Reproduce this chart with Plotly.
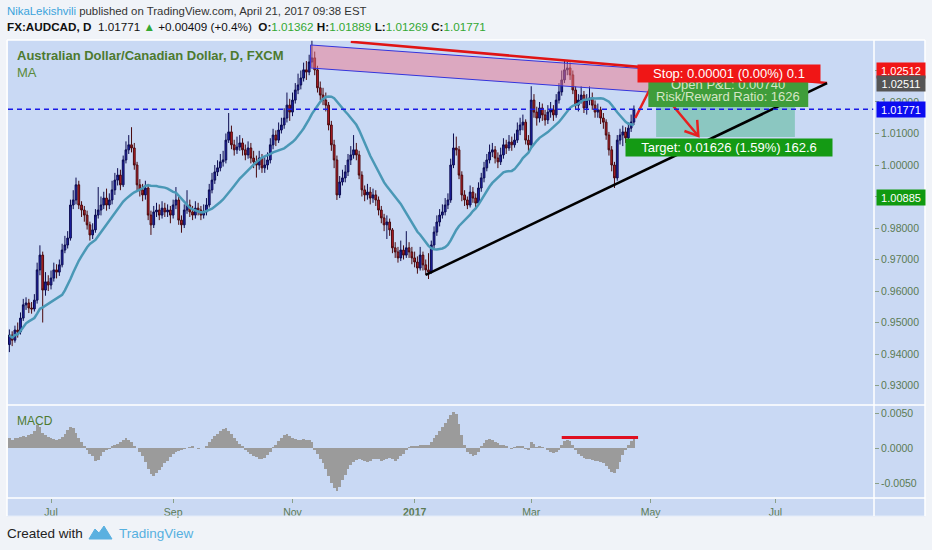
import plotly.graph_objects as go
import pandas as pd

# ---------------- data ----------------
close = [
0.9460,0.9444,0.9476,0.9470,0.9514,0.9556,0.9562,0.9546,0.9543,0.9571,
0.9667,0.9714,0.9603,0.9629,0.9619,0.9641,0.9667,0.9660,0.9683,0.9730,
0.9746,0.9768,0.9873,0.9889,0.9937,0.9873,0.9857,0.9841,0.9810,0.9778,
0.9794,0.9841,0.9857,0.9873,0.9895,0.9873,0.9889,0.9921,0.9952,0.9968,
0.9937,1.0016,1.0048,1.0064,1.0054,1.0000,0.9937,0.9921,0.9905,0.9927,
0.9841,0.9810,0.9851,0.9857,0.9841,0.9863,0.9851,0.9857,0.9841,0.9873,
0.9889,0.9825,0.9810,0.9857,0.9873,0.9851,0.9841,0.9863,0.9857,0.9841,
0.9851,0.9873,0.9921,0.9952,0.9978,0.9991,1.0010,1.0016,1.0079,1.0105,
1.0064,1.0048,1.0057,1.0070,1.0048,1.0032,1.0054,1.0022,1.0010,1.0000,
1.0022,0.9991,1.0000,1.0016,1.0064,1.0095,1.0079,1.0111,1.0127,1.0149,
1.0190,1.0168,1.0206,1.0238,1.0254,1.0276,1.0302,1.0295,1.0327,1.0340,
1.0302,1.0245,1.0222,1.0206,1.0190,1.0127,1.0064,1.0016,0.9905,0.9946,
0.9959,0.9978,1.0016,1.0032,1.0048,1.0032,0.9968,0.9921,0.9905,0.9914,
0.9895,0.9905,0.9889,0.9857,0.9832,0.9810,0.9819,0.9794,0.9737,0.9724,
0.9705,0.9730,0.9714,0.9737,0.9724,0.9705,0.9692,0.9673,0.9714,0.9683,
0.9667,0.9660,0.9746,0.9787,0.9819,0.9841,0.9851,0.9873,0.9889,1.0000,
1.0054,1.0048,0.9968,0.9905,0.9889,0.9873,0.9914,0.9895,0.9879,0.9927,
0.9959,0.9991,1.0016,1.0041,1.0048,1.0022,1.0010,1.0032,1.0064,1.0054,
1.0073,1.0064,1.0079,1.0111,1.0127,1.0136,1.0079,1.0064,1.0206,1.0168,
1.0149,1.0181,1.0159,1.0143,1.0168,1.0175,1.0159,1.0206,1.0232,1.0270,
1.0302,1.0308,1.0286,1.0238,1.0190,1.0206,1.0222,1.0181,1.0206,1.0213,
1.0190,1.0168,1.0175,1.0149,1.0136,1.0095,1.0048,1.0000,0.9959,1.0079,
1.0095,1.0105,1.0086,1.0117,1.01362,1.01771]

high = [
0.9478,0.9472,0.9490,0.9500,0.9532,0.9575,0.9580,0.9575,0.9565,0.9590,
0.9690,0.9745,0.9725,0.9660,0.9650,0.9665,0.9690,0.9685,0.9700,0.9750,
0.9775,0.9790,0.9890,0.9920,0.9960,0.9950,0.9885,0.9870,0.9855,0.9820,
0.9815,0.9860,0.9930,0.9900,0.9915,0.9925,0.9910,0.9950,0.9975,0.9990,
0.9985,1.0030,1.0075,1.0095,1.0120,1.0070,1.0010,0.9955,0.9940,0.9950,
0.9940,0.9855,0.9870,0.9880,0.9875,0.9885,0.9880,0.9875,0.9870,0.9890,
0.9930,0.9900,0.9840,0.9875,0.9920,0.9890,0.9870,0.9885,0.9880,0.9870,
0.9875,0.9895,0.9940,0.9975,1.0000,1.0015,1.0035,1.0045,1.0100,1.0165,
1.0125,1.0080,1.0090,1.0095,1.0085,1.0065,1.0075,1.0070,1.0045,1.0030,
1.0045,1.0035,1.0025,1.0040,1.0085,1.0115,1.0110,1.0135,1.0150,1.0180,
1.0230,1.0210,1.0230,1.0260,1.0290,1.0300,1.0325,1.0330,1.0350,1.0397,
1.0360,1.0315,1.0265,1.0245,1.0230,1.0200,1.0140,1.0080,1.0030,0.9965,
0.9985,1.0000,1.0035,1.0060,1.0095,1.0070,1.0045,0.9980,0.9935,0.9940,
0.9930,0.9925,0.9920,0.9900,0.9870,0.9845,0.9840,0.9830,0.9800,0.9755,
0.9740,0.9760,0.9745,0.9790,0.9755,0.9740,0.9725,0.9710,0.9740,0.9725,
0.9700,0.9720,0.9760,0.9805,0.9840,0.9860,0.9875,0.9895,0.9910,1.0020,
1.0100,1.0090,1.0060,0.9980,0.9920,0.9900,0.9935,0.9930,0.9910,0.9945,
0.9975,1.0010,1.0035,1.0065,1.0070,1.0060,1.0040,1.0055,1.0085,1.0080,
1.0095,1.0090,1.0100,1.0135,1.0150,1.0160,1.0145,1.0095,1.0250,1.0225,
1.0185,1.0200,1.0195,1.0175,1.0190,1.0200,1.0190,1.0225,1.0260,1.0300,
1.0330,1.0327,1.0325,1.0300,1.0250,1.0225,1.0250,1.0235,1.0225,1.0250,
1.0230,1.0205,1.0195,1.0185,1.0165,1.0145,1.0105,1.0060,1.0010,1.0095,
1.0115,1.0125,1.0120,1.0135,1.0160,1.01889]

low = [
0.9406,0.9425,0.9436,0.9452,0.9462,0.9505,0.9540,0.9530,0.9528,0.9535,
0.9560,0.9650,0.9500,0.9585,0.9600,0.9605,0.9630,0.9640,0.9648,0.9675,
0.9720,0.9735,0.9760,0.9860,0.9875,0.9860,0.9835,0.9820,0.9795,0.9760,
0.9765,0.9785,0.9830,0.9840,0.9860,0.9855,0.9860,0.9875,0.9905,0.9935,
0.9920,0.9930,1.0005,1.0035,1.0040,0.9985,0.9920,0.9900,0.9885,0.9890,
0.9825,0.9778,0.9800,0.9835,0.9825,0.9830,0.9835,0.9835,0.9815,0.9830,
0.9860,0.9810,0.9785,0.9800,0.9845,0.9835,0.9825,0.9830,0.9840,0.9825,
0.9830,0.9840,0.9865,0.9910,0.9940,0.9965,0.9980,0.9995,1.0005,1.0070,
1.0050,1.0030,1.0035,1.0045,1.0030,1.0015,1.0020,1.0005,0.9990,0.9960,
0.9985,0.9975,0.9975,0.9985,1.0005,1.0050,1.0060,1.0070,1.0100,1.0115,
1.0135,1.0140,1.0155,1.0195,1.0225,1.0240,1.0265,1.0270,1.0285,1.0310,
1.0285,1.0230,1.0205,1.0190,1.0170,1.0110,1.0045,0.9990,0.9889,0.9895,
0.9935,0.9945,0.9965,1.0000,1.0020,1.0015,0.9955,0.9900,0.9885,0.9890,
0.9875,0.9880,0.9870,0.9840,0.9815,0.9790,0.9765,0.9775,0.9720,0.9705,
0.9690,0.9695,0.9700,0.9705,0.9705,0.9685,0.9675,0.9655,0.9665,0.9665,
0.9650,0.9638,0.9655,0.9735,0.9775,0.9805,0.9830,0.9840,0.9860,0.9880,
0.9990,1.0030,0.9955,0.9885,0.9870,0.9860,0.9865,0.9880,0.9860,0.9870,
0.9915,0.9945,0.9980,1.0005,1.0025,1.0005,0.9990,1.0000,1.0020,1.0035,
1.0045,1.0045,1.0055,1.0070,1.0095,1.0110,1.0065,1.0040,1.0055,1.0150,
1.0125,1.0135,1.0140,1.0125,1.0130,1.0150,1.0140,1.0150,1.0195,1.0220,
1.0260,1.0285,1.0270,1.0225,1.0175,1.0170,1.0195,1.0165,1.0160,1.0190,
1.0175,1.0150,1.0150,1.0130,1.0115,1.0080,1.0030,0.9980,0.9927,0.9950,
1.0065,1.0060,1.0070,1.0075,1.0105,1.01269]

first_open = 0.9430
open_ = [first_open] + close[:-1]

# MACD histogram, in units of 0.0001
macd_hist_e4 = [
15,12,14,15,16,17,16,18,20,24, 33,30,22,18,16,14,13,12,13,16,
20,26,30,28,22,14,8,2,-3,-8, -12,-19,-17,-12,-6,-3,-1,2,4,6,
9,12,14,11,8,3,0,-5,-12,-20, -30,-37,-40,-36,-31,-27,-22,-18,-13,-9,
-6,-4,-3,-1,0,1,2,0,-1,0, 0,3,8,13,17,20,24,27,29,25,
20,15,10,6,2,-3,-5,-8,-11,-13, -15,-16,-14,-10,-5,1,5,10,15,18,
20,17,15,13,12,12,13,12,11,8, -2,-8,-15,-22,-30,-40,-50,-57,-62,-55,
-46,-38,-30,-24,-20,-17,-16,-17,-19,-20, -18,-16,-15,-16,-18,-17,-15,-14,-16,-18,
-16,-12,-8,-3,1,2,3,3,4,4, 4,5,9,14,19,25,30,36,41,47,
52,48,35,18,4,-5,-9,-12,-10,-5, 2,7,11,13,12,9,7,5,4,3,
0,-1,1,2,3,2,-1,-2,9,6, 1,2,1,0,-3,-5,-7,-6,-3,5,
10,12,10,4,-3,-8,-12,-14,-15,-16, -17,-18,-19,-20,-22,-26,-30,-34,-36,-30,
-20,-10,-3,4,10,14]
macd_hist = [v * 1e-4 for v in macd_hist_e4]

ma_length = 20
last_price = 1.01771
entry_price = 1.02511
stop_price = 1.02512
target_price = 1.00885

month_ticks = ["2016-07-01", "2016-09-01", "2016-11-01", "2017-01-02",
               "2017-03-01", "2017-05-01", "2017-07-03"]
month_labels = ["Jul", "Sep", "Nov", "<b>2017</b>", "Mar", "May", "Jul"]
price_ticks = [0.93, 0.94, 0.95, 0.96, 0.97, 0.98, 0.99, 1.00, 1.01, 1.02, 1.03]
macd_ticks = [-0.005, 0.0, 0.005]
macd_tick_labels = ["-0.0050", "0.0000", "0.0050"]

# drawings (bar index, price)
channel_x = [108.5, 280.5, 280.5, 108.5, 108.5]
channel_y = [1.0381, 1.0273, 1.0200, 1.0308, 1.0381]
resist_x = [123.0, 294.6]
resist_y = [1.0391, 1.0260]
support_x = [150.0, 294.6]
support_y = [0.9651, 1.0260]
path_x = [225.5, 232.0, 248.2]
path_y = [1.0149, 1.0263, 1.0092]
head_x = [243.2, 248.2, 247.8]
head_y = [1.0108, 1.0092, 1.0143]
zone_x = [233.0, 283.0]
macd_mark_x = [199.0, 226.5]
macd_mark_y = [0.0015, 0.0015]

# ---------------- figure ----------------
dates = pd.bdate_range("2016-06-10", "2017-08-31")
xb = list(range(len(close)))
tick_idx = [int(dates.searchsorted(pd.Timestamp(d))) for d in month_ticks]
ma = pd.Series(close).rolling(ma_length, min_periods=1).mean()

PL, PR, PT, PB = 8, 874, 40, 498
def fx(px):
    return (px - PL) / (PR - PL)
def fy(py):
    return (PB - py) / (PB - PT)

GREEN_TXT = "#5b7b53"
SF = "Liberation Sans, Arial, sans-serif"
fig = go.Figure()

fig.add_trace(go.Scatter(x=channel_x, y=channel_y, mode="lines", fill="toself",
                         fillcolor="rgba(240,120,140,0.50)",
                         line=dict(color="#3434dc", width=1), hoverinfo="skip"))
fig.add_trace(go.Candlestick(
    x=xb, open=open_, high=high, low=low, close=close,
    increasing=dict(line=dict(color="#0c0c50", width=1), fillcolor="#2024b0"),
    decreasing=dict(line=dict(color="#4a0a0e", width=1), fillcolor="#c02028"),
    whiskerwidth=0, xaxis="x", yaxis="y"))
fig.add_trace(go.Scatter(x=xb, y=ma, mode="lines",
                         line=dict(color="#4a98b6", width=2.5), hoverinfo="skip"))
fig.add_trace(go.Scatter(x=resist_x, y=resist_y, mode="lines",
                         line=dict(color="#e01414", width=2.5), hoverinfo="skip"))
fig.add_trace(go.Scatter(x=support_x, y=support_y, mode="lines",
                         line=dict(color="#000000", width=2.5), hoverinfo="skip"))
fig.add_trace(go.Scatter(x=path_x, y=path_y, mode="lines",
                         line=dict(color="#e62020", width=2.5), hoverinfo="skip"))
fig.add_trace(go.Scatter(x=head_x, y=head_y, mode="lines",
                         line=dict(color="#e62020", width=2.5), hoverinfo="skip"))

fig.add_trace(go.Bar(x=xb, y=macd_hist, marker=dict(color="#9b9b9b", line=dict(width=0)),
                     xaxis="x", yaxis="y2", hoverinfo="skip"))
fig.add_trace(go.Scatter(x=macd_mark_x, y=macd_mark_y, mode="lines", xaxis="x", yaxis="y2",
                         line=dict(color="#e01020", width=3), hoverinfo="skip"))

shapes = []
shapes.append(dict(type="rect", xref="paper", yref="paper", x0=1.0, x1=fx(925),
                   y0=fy(516), y1=fy(40), fillcolor="#cad9f3", line=dict(width=0), layer="below"))
shapes.append(dict(type="rect", xref="paper", yref="paper", x0=fx(7), x1=fx(925),
                   y0=fy(516), y1=fy(498), fillcolor="#cad9f3", line=dict(width=0), layer="below"))
shapes.append(dict(type="rect", xref="x", yref="y", x0=zone_x[0], x1=zone_x[1],
                   y0=target_price, y1=entry_price, fillcolor="rgba(40,170,110,0.38)",
                   line=dict(width=0), layer="below"))
shapes.append(dict(type="line", xref="paper", yref="y", x0=0, x1=1, y0=last_price, y1=last_price,
                   line=dict(color="#1a1ae6", width=1.5, dash="5px,4px")))
shapes.append(dict(type="rect", xref="x", yref="y", x0=230.2, x1=287.8, y0=1.0184, y1=1.0279,
                   fillcolor="#3f9d3a", line=dict(width=0)))
for y in (40, 405, 498):
    shapes.append(dict(type="line", xref="paper", yref="paper", x0=fx(7), x1=fx(925),
                       y0=fy(y), y1=fy(y), line=dict(color="#ffffff", width=1.5)))
shapes.append(dict(type="line", xref="paper", yref="paper", x0=fx(7), x1=fx(925),
                   y0=fy(516), y1=fy(516), line=dict(color="#e4ecf8", width=1)))
for xv in (7, 874, 925):
    shapes.append(dict(type="line", xref="paper", yref="paper", x0=fx(xv), x1=fx(xv),
                       y0=fy(516), y1=fy(40), line=dict(color="#ffffff", width=1.5)))
logo_pts = [(89, 539), (95, 529), (99, 533), (104, 526), (112, 539)]
path = "M " + " L ".join(f"{fx(a):.5f},{fy(b):.5f}" for a, b in logo_pts) + " Z"
shapes.append(dict(type="path", xref="paper", yref="paper", path=path,
                   fillcolor="#5ab0e0", line=dict(color="#5ab0e0", width=1)))

ann = []
ann.append(dict(xref="paper", yref="paper", x=fx(5), y=fy(11), xanchor="left", yanchor="middle",
                showarrow=False, font=dict(family=SF, size=11.4, color="#333333"),
                text="<span style='color:#3ba3dc'>NikaLekishvili</span> published on TradingView.com, April 21, 2017 09:38 EST"))
gv = "<span style='color:#33a833'>%s</span>"
ann.append(dict(xref="paper", yref="paper", x=fx(5), y=fy(27), xanchor="left", yanchor="middle",
                showarrow=False, font=dict(family=SF, size=11.7, color="#111111"),
                text="<b>FX:AUDCAD, D</b>  1.01771 " + gv % "▲" + " +0.00409 (+0.4%)  <b>O:</b>" + gv % "1.01362"
                     + " <b>H:</b>" + gv % "1.01889" + " <b>L:</b>" + gv % "1.01269" + " <b>C:</b>" + gv % "1.01771"))
ann.append(dict(xref="paper", yref="paper", x=fx(15), y=fy(56), xanchor="left", yanchor="middle",
                showarrow=False, font=dict(family=SF, size=13, color="#4d7a2f"),
                text="<b>Australian Dollar/Canadian Dollar, D, FXCM</b>"))
ann.append(dict(xref="paper", yref="paper", x=fx(15), y=fy(72), xanchor="left", yanchor="middle",
                showarrow=False, font=dict(family=SF, size=13, color="#5a8a3a"), text="MA"))
ann.append(dict(xref="paper", yref="paper", x=fx(15), y=fy(421), xanchor="left", yanchor="middle",
                showarrow=False, font=dict(family=SF, size=12, color="#4d7a2f"), text="MACD"))
ann.append(dict(xref="paper", yref="paper", x=fx(5), y=fy(533), xanchor="left", yanchor="middle",
                showarrow=False, font=dict(family=SF, size=13.5, color="#222222"), text="Created with"))
ann.append(dict(xref="paper", yref="paper", x=fx(117), y=fy(533), xanchor="left", yanchor="middle",
                showarrow=False, font=dict(family=SF, size=13.5, color="#56b0e0"), text="TradingView"))

ann.append(dict(xref="x", yref="y", x=259, y=1.0256, showarrow=False,
                font=dict(family=SF, size=13, color="#d5e6c6"), text="Open P&L: 0.00740"))
ann.append(dict(xref="x", yref="y", x=259, y=1.0218, showarrow=False,
                font=dict(family=SF, size=13, color="#d5e6c6"), text="Risk/Reward Ratio: 1626"))
ann.append(dict(xref="x", yref="y", x=259.4, y=1.0290, showarrow=False, bgcolor="#f01616",
                font=dict(family=SF, size=13, color="#ffffff"),
                text="Stop: 0.00001 (0.00%) 0.1", width=180, height=15))
ann.append(dict(xref="x", yref="y", x=259.4, y=1.0057, showarrow=False, bgcolor="#149a14",
                font=dict(family=SF, size=13, color="#ffffff"),
                text="Target: 0.01626 (1.59%) 162.6", width=204, height=15))

def plabel(val, color, shift=0):
    return dict(xref="paper", yref="y", x=fx(876), y=val, xanchor="left", yanchor="middle",
                yshift=shift, showarrow=False, bgcolor=color, width=46, height=13,
                font=dict(family=SF, size=11, color="#ffffff"), text=f"{val:.5f}")
ann.append(plabel(stop_price, "#f01616", 15))
ann.append(plabel(entry_price, "#555555", 2))
ann.append(plabel(last_price, "#0c0cf0"))
ann.append(plabel(target_price, "#109a10", -60))

axfont = dict(family=SF, size=10.5, color=GREEN_TXT)
fig.update_layout(
    width=932, height=550, margin=dict(l=PL, r=932 - PR, t=PT, b=550 - PB),
    paper_bgcolor="#f0f3f8", plot_bgcolor="#c9d9f4", showlegend=False, bargap=0, boxgap=0.1,
    xaxis=dict(range=[-0.5, 311.5], anchor="y2", tickmode="array", tickvals=tick_idx,
               ticktext=month_labels, showgrid=False, zeroline=False, showline=False,
               ticks="outside", ticklen=4, tickcolor="#8aa08a", tickfont=axfont,
               rangeslider=dict(visible=False)),
    yaxis=dict(domain=[fy(405), 1], range=[0.92381, 1.03968], side="right",
               tickmode="array", tickvals=price_ticks, ticktext=[f"{v:.5f}" for v in price_ticks],
               showgrid=False, zeroline=False, ticks="outside", ticklen=4, tickcolor="#8aa08a",
               tickfont=axfont),
    yaxis2=dict(domain=[0, fy(405)], range=[-0.007143, 0.006143], side="right",
                tickmode="array", tickvals=macd_ticks, ticktext=macd_tick_labels,
                showgrid=False, zeroline=False, ticks="outside", ticklen=4, tickcolor="#8aa08a",
                tickfont=axfont),
    shapes=shapes, annotations=ann,
)

fig.write_html("out.html", config={"displayModeBar": False},
               post_script="document.body.style.margin='0';document.body.style.overflow='hidden';")
